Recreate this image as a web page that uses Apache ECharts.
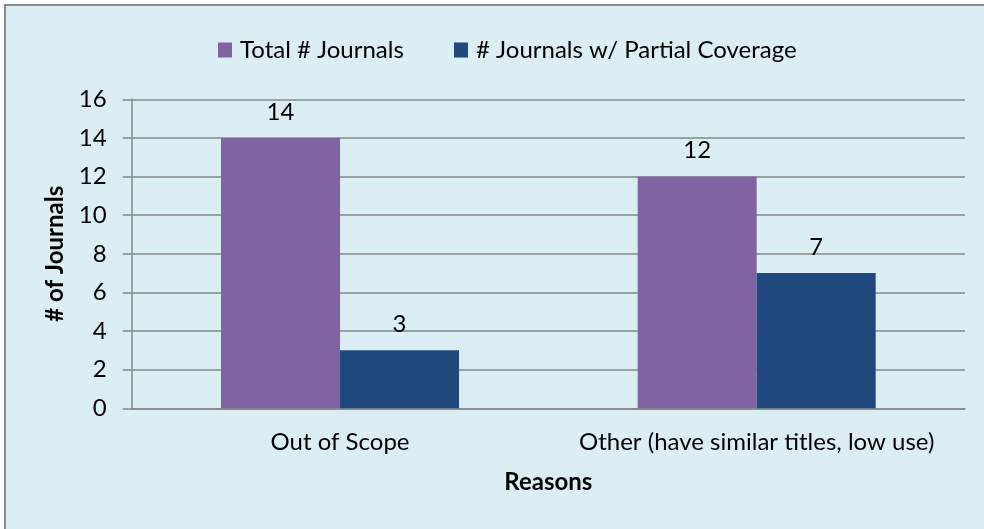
<!DOCTYPE html>
<html>
<head>
<meta charset="utf-8">
<script src="https://cdn.jsdelivr.net/npm/echarts@6/dist/echarts.min.js"></script>
<style>
html,body{margin:0;padding:0;background:#ffffff;overflow:hidden;width:984px;height:529px;}
#frame{position:absolute;left:4px;top:4px;width:1200px;height:800px;background:#DBEEF4;border:2px solid #8a8a8a;box-sizing:border-box;}
#chart{position:absolute;left:0;top:0;width:984px;height:529px;}
</style>
</head>
<body>
<div id="frame"></div>
<div id="chart"></div>
<script>
const categories = ['Out of Scope', 'Other (have similar titles, low use)'];
const seriesNames = ['Total # Journals', '# Journals w/ Partial Coverage'];
const totalJournals = [14, 12];
const partialCoverage = [3, 7];
const yTicks = {min: 0, max: 16, interval: 2};

const font = 'Lato';
const fs = 24;
const chart = echarts.init(document.getElementById('chart'));
const legendText = {fontFamily: font, fontSize: fs, color: '#000', padding: [0, 0, 0, 3]};
chart.setOption({
  backgroundColor: 'transparent',
  animation: false,
  textStyle: {fontFamily: font},
  legend: [
    {data: [seriesNames[0]], left: 213, top: 33, itemWidth: 14, itemHeight: 15, itemGap: 0,
     icon: 'rect', textStyle: legendText},
    {data: [seriesNames[1]], left: 449, top: 33, itemWidth: 14, itemHeight: 15, itemGap: 0,
     icon: 'rect', textStyle: legendText}
  ],
  grid: {left: 131.7, right: 19, top: 99.3, bottom: 120.7, containLabel: false},
  xAxis: {
    type: 'category',
    data: categories,
    name: 'Reasons',
    nameLocation: 'middle',
    nameGap: 62,
    nameTextStyle: {fontFamily: font, fontSize: fs, fontWeight: 'bold', color: '#000'},
    axisLine: {lineStyle: {color: '#868686', width: 1.5}},
    axisTick: {show: false},
    axisLabel: {fontFamily: font, fontSize: fs, color: '#000', margin: 22, interval: 0, hideOverlap: false}
  },
  yAxis: {
    type: 'value',
    min: yTicks.min, max: yTicks.max, interval: yTicks.interval,
    name: '# of Journals',
    nameLocation: 'middle',
    nameGap: 64,
    nameRotate: 90,
    nameTextStyle: {fontFamily: font, fontSize: fs, fontWeight: 'bold', color: '#000'},
    axisLine: {show: true, lineStyle: {color: '#868686', width: 1.5}},
    axisTick: {show: true, length: 9, lineStyle: {color: '#868686', width: 1.5}},
    splitLine: {show: true, lineStyle: {color: '#868686', width: 1.5}},
    axisLabel: {fontFamily: font, fontSize: fs, color: '#000', margin: 25}
  },
  series: [
    {name: seriesNames[0], type: 'bar', data: totalJournals, barWidth: 119, barGap: '0%',
     itemStyle: {color: '#8064A2'},
     label: {show: true, position: 'top', distance: 14, fontFamily: font, fontSize: fs, color: '#000'}},
    {name: seriesNames[1], type: 'bar', data: partialCoverage, barWidth: 119, barGap: '0%',
     itemStyle: {color: '#1F497D'},
     label: {show: true, position: 'top', distance: 14, fontFamily: font, fontSize: fs, color: '#000'}}
  ]
});
</script>
</body>
</html>
